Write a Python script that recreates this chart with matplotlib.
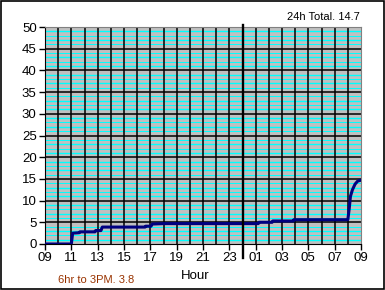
import matplotlib
matplotlib.use("Agg")
import matplotlib.pyplot as plt
from matplotlib.patches import Rectangle
import numpy as np

# hours since 09:00 and cumulative rain
hours = [0, 2.0, 2.1, 2.6, 2.65, 3.8, 3.85, 4.25, 4.35, 7.6, 7.65, 8.05, 8.15, 9.0,
         16.2, 16.25, 17.25, 17.3, 18.85, 18.9, 23.0, 23.1, 23.2, 23.35, 23.55, 23.75, 24.0]
rain = [0, 0, 2.5, 2.6, 2.8, 2.8, 3.1, 3.1, 3.9, 3.9, 4.1, 4.1, 4.6, 4.7,
        4.7, 5.0, 5.0, 5.3, 5.3, 5.6, 5.6, 8.0, 11.0, 12.5, 13.8, 14.5, 14.7]
tick_hours = list(range(0, 25, 2))
tick_labels = ["09", "11", "13", "15", "17", "19", "21", "23", "01", "03", "05", "07", "09"]
total_text = "24h Total. 14.7"
part_text = "6hr to 3PM. 3.8"

plt.rcParams["font.family"] = ["Liberation Sans", "DejaVu Sans"]

fig = plt.figure(figsize=(3.85, 2.9), dpi=100)
ax = fig.add_axes([45/385, 1-244/290, 316/385, 217/290])
ax.set_facecolor("#c0c0c0")

# cyan lines every unit, black every 5
for v in range(1, 50):
    if v % 5 == 0:
        ax.axhline(v, color="black", lw=1.1, zorder=2)
    else:
        ax.axhline(v, color="#00ffff", lw=1.0 if v % 2 else 0.7, zorder=1)
for h in range(1, 24):
    ax.axvline(h, color="black", lw=1.1, zorder=2)

ax.plot(hours, rain, color="#000080", lw=2.2, zorder=4)
ax.axvline(15, ymin=-0.065, ymax=1.01, color="black", lw=1.7, zorder=5, clip_on=False)

ax.set_xlim(0, 24)
ax.set_ylim(0, 50)
ax.set_xticks(tick_hours)
ax.set_xticklabels(tick_labels)
ax.set_yticks(range(0, 51, 5))
ax.tick_params(length=4, width=1, pad=2, labelsize=9.5)
ax.spines["top"].set_color("#808080")
ax.spines["right"].set_color("#808080")

fig.text(195/385, 1-276/290, "Hour", ha="center", va="center", fontsize=9.5)
fig.text(360/385, 1-17/290, total_text, ha="right", va="center", fontsize=8)
fig.text(58/385, 1-280/290, part_text, ha="left", va="center", fontsize=8, color="#993300")

fig.patches.append(Rectangle((0.002, 0.003), 0.995, 0.994, transform=fig.transFigure,
                             fill=False, edgecolor="black", lw=1.2))

fig.savefig("out.png", dpi=100)
